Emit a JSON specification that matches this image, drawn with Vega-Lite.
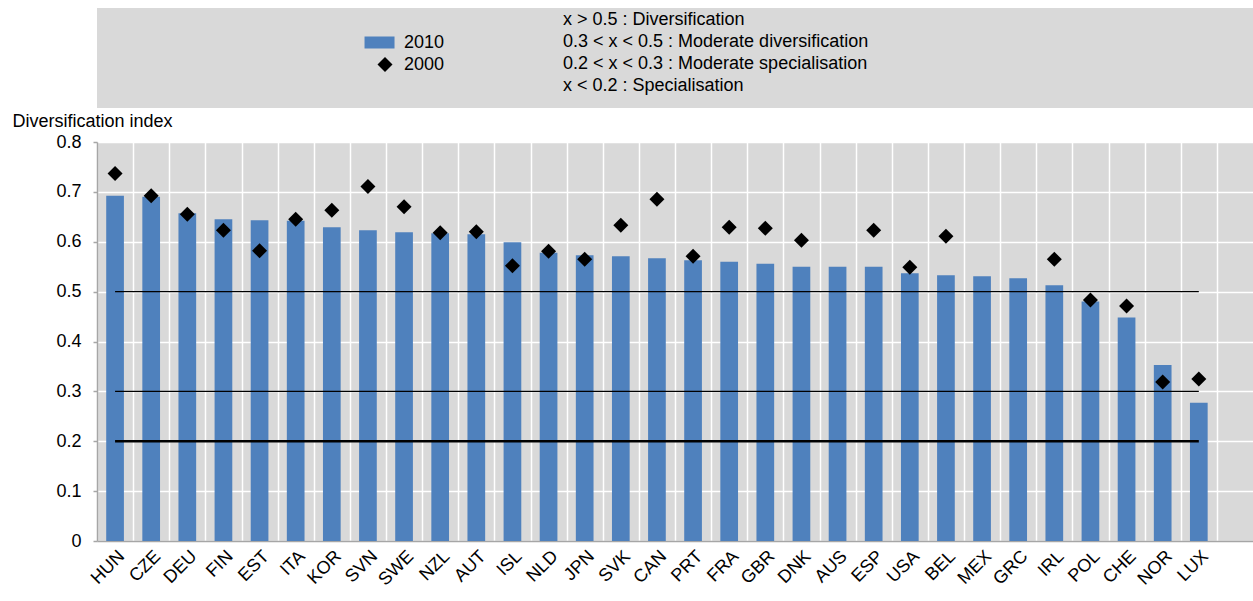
{
  "$schema": "https://vega.github.io/schema/vega-lite/v6.json",
  "autosize": {"type": "pad"},
  "padding": {"left": 12, "top": 8, "right": 0, "bottom": 0},
  "background": "#ffffff",
  "bounds": "flush",
  "spacing": 34,
  "config": {
    "font": "Liberation Sans",
    "view": {"stroke": null}
  },
  "datasets": {
    "index": [
      {"country": "HUN", "series": "2010", "value": 0.692},
      {"country": "CZE", "series": "2010", "value": 0.690},
      {"country": "DEU", "series": "2010", "value": 0.657},
      {"country": "FIN", "series": "2010", "value": 0.645},
      {"country": "EST", "series": "2010", "value": 0.643},
      {"country": "ITA", "series": "2010", "value": 0.642},
      {"country": "KOR", "series": "2010", "value": 0.629},
      {"country": "SVN", "series": "2010", "value": 0.623},
      {"country": "SWE", "series": "2010", "value": 0.619},
      {"country": "NZL", "series": "2010", "value": 0.617},
      {"country": "AUT", "series": "2010", "value": 0.615},
      {"country": "ISL", "series": "2010", "value": 0.599},
      {"country": "NLD", "series": "2010", "value": 0.578},
      {"country": "JPN", "series": "2010", "value": 0.573},
      {"country": "SVK", "series": "2010", "value": 0.571},
      {"country": "CAN", "series": "2010", "value": 0.567},
      {"country": "PRT", "series": "2010", "value": 0.563},
      {"country": "FRA", "series": "2010", "value": 0.560},
      {"country": "GBR", "series": "2010", "value": 0.556},
      {"country": "DNK", "series": "2010", "value": 0.550},
      {"country": "AUS", "series": "2010", "value": 0.550},
      {"country": "ESP", "series": "2010", "value": 0.550},
      {"country": "USA", "series": "2010", "value": 0.537},
      {"country": "BEL", "series": "2010", "value": 0.533},
      {"country": "MEX", "series": "2010", "value": 0.531},
      {"country": "GRC", "series": "2010", "value": 0.527},
      {"country": "IRL", "series": "2010", "value": 0.513},
      {"country": "POL", "series": "2010", "value": 0.480},
      {"country": "CHE", "series": "2010", "value": 0.448},
      {"country": "NOR", "series": "2010", "value": 0.353},
      {"country": "LUX", "series": "2010", "value": 0.277},
      {"country": "HUN", "series": "2000", "value": 0.737},
      {"country": "CZE", "series": "2000", "value": 0.692},
      {"country": "DEU", "series": "2000", "value": 0.655},
      {"country": "FIN", "series": "2000", "value": 0.623},
      {"country": "EST", "series": "2000", "value": 0.582},
      {"country": "ITA", "series": "2000", "value": 0.645},
      {"country": "KOR", "series": "2000", "value": 0.663},
      {"country": "SVN", "series": "2000", "value": 0.711},
      {"country": "SWE", "series": "2000", "value": 0.670},
      {"country": "NZL", "series": "2000", "value": 0.618},
      {"country": "AUT", "series": "2000", "value": 0.620},
      {"country": "ISL", "series": "2000", "value": 0.552},
      {"country": "NLD", "series": "2000", "value": 0.581},
      {"country": "JPN", "series": "2000", "value": 0.565},
      {"country": "SVK", "series": "2000", "value": 0.633},
      {"country": "CAN", "series": "2000", "value": 0.685},
      {"country": "PRT", "series": "2000", "value": 0.571},
      {"country": "FRA", "series": "2000", "value": 0.629},
      {"country": "GBR", "series": "2000", "value": 0.627},
      {"country": "DNK", "series": "2000", "value": 0.603},
      {"country": "ESP", "series": "2000", "value": 0.623},
      {"country": "USA", "series": "2000", "value": 0.549},
      {"country": "BEL", "series": "2000", "value": 0.611},
      {"country": "IRL", "series": "2000", "value": 0.565},
      {"country": "POL", "series": "2000", "value": 0.483},
      {"country": "CHE", "series": "2000", "value": 0.471},
      {"country": "NOR", "series": "2000", "value": 0.319},
      {"country": "LUX", "series": "2000", "value": 0.325}
    ],
    "thresholds": [
      {"threshold": 0.5},
      {"threshold": 0.3},
      {"threshold": 0.2}
    ],
    "classes": [
      {"order": 1, "desc": "x > 0.5 : Diversification"},
      {"order": 2, "desc": "0.3 < x < 0.5 : Moderate diversification"},
      {"order": 3, "desc": "0.2 < x < 0.3 : Moderate specialisation"},
      {"order": 4, "desc": "x < 0.2 : Specialisation"}
    ]
  },
  "vconcat": [
    {
      "width": 1156,
      "height": 100,
      "view": {"fill": "#d9d9d9", "stroke": null},
      "data": {"values": [{}]},
      "mark": {"type": "text", "text": ""},
      "encoding": {}
    },
    {
      "width": 1156,
      "height": 399,
      "view": {"fill": "#d9d9d9", "stroke": null},
      "encoding": {
        "x": {
          "field": "country",
          "type": "nominal",
          "sort": null,
          "scale": {"paddingInner": 0, "paddingOuter": 0},
          "axis": {
            "title": null,
            "labelAngle": -45,
            "labelFontSize": 18,
            "labelColor": "#000000",
            "labelPadding": 6,
            "ticks": false,
            "tickBand": "extent",
            "grid": true,
            "gridColor": "#ffffff",
            "gridWidth": 1.5,
            "domainColor": "#a6a6a6",
            "domainWidth": 1.5
          }
        }
      },
      "layer": [
        {
          "data": {"name": "index"},
          "transform": [{"filter": "datum.series == '2010'"}],
          "mark": {"type": "bar", "width": {"band": 0.49}},
          "encoding": {
            "y": {
              "field": "value",
              "type": "quantitative",
              "scale": {"domain": [0, 0.8], "nice": false},
              "axis": {
                "values": [0, 0.1, 0.2, 0.3, 0.4, 0.5, 0.6, 0.7, 0.8],
                "format": "~g",
                "title": "Diversification index",
                "titleAngle": 0,
                "titleAlign": "left",
                "titleBaseline": "middle",
                "titleX": -85,
                "titleY": -21,
                "titleFontSize": 18,
                "titleFontWeight": "normal",
                "titleColor": "#000000",
                "labelFontSize": 18,
                "labelColor": "#000000",
                "labelPadding": 12,
                "tickSize": 4,
                "tickColor": "#a6a6a6",
                "tickWidth": 1.5,
                "domainColor": "#a6a6a6",
                "domainWidth": 1.5,
                "grid": true,
                "gridColor": "#ffffff",
                "gridWidth": 1.5
              }
            },
            "color": {
              "field": "series",
              "type": "nominal",
              "scale": {"domain": ["2010", "2000"], "range": ["#4f81bd", "#000000"]},
              "legend": {
                "orient": "none",
                "legendX": 279,
                "legendY": 25.5,
                "title": null,
                "padding": 0,
                "symbolSize": 225,
                "symbolStrokeWidth": 0,
                "labelFontSize": 18,
                "labelColor": "#000000",
                "labelOffset": 10,
                "rowPadding": 4
              }
            }
          }
        },
        {
          "data": {"name": "thresholds"},
          "transform": [{"filter": "datum.threshold != 0.2"}],
          "mark": {"type": "rule", "color": "#000000", "strokeWidth": 1.3},
          "encoding": {
            "x": {"datum": "HUN", "type": "nominal"},
            "x2": {"datum": "LUX"},
            "y": {"field": "threshold", "type": "quantitative"}
          }
        },
        {
          "data": {"name": "thresholds"},
          "transform": [{"filter": "datum.threshold == 0.2"}],
          "mark": {"type": "rule", "color": "#000000", "strokeWidth": 2.3},
          "encoding": {
            "x": {"datum": "HUN", "type": "nominal"},
            "x2": {"datum": "LUX"},
            "y": {"field": "threshold", "type": "quantitative"}
          }
        },
        {
          "data": {"name": "index"},
          "transform": [{"filter": "datum.series == '2000'"}],
          "mark": {"type": "point", "filled": true, "size": 225, "opacity": 1, "strokeWidth": 0},
          "encoding": {
            "y": {"field": "value", "type": "quantitative"},
            "color": {"field": "series", "type": "nominal"},
            "shape": {
              "field": "series",
              "type": "nominal",
              "scale": {"domain": ["2010", "2000"], "range": ["M-2.73,-0.8H1.27V0.8H-2.73Z", "diamond"]},
              "legend": {
                "orient": "none",
                "legendX": 279,
                "legendY": 25.5,
                "title": null,
                "padding": 0,
                "symbolSize": 225,
                "symbolStrokeWidth": 0,
                "labelFontSize": 18,
                "labelColor": "#000000",
                "labelOffset": 10,
                "rowPadding": 4
              }
            }
          }
        },
        {
          "data": {"name": "classes"},
          "mark": {"type": "point", "opacity": 0},
          "encoding": {
            "strokeDash": {
              "field": "desc",
              "type": "nominal",
              "sort": {"field": "order"},
              "legend": {
                "orient": "none",
                "legendX": 448,
                "legendY": 3,
                "title": null,
                "padding": 0,
                "symbolSize": 0,
                "symbolOpacity": 0,
                "symbolStrokeWidth": 0,
                "labelOffset": 0,
                "labelFontSize": 18,
                "labelColor": "#000000",
                "labelLimit": 700,
                "rowPadding": 4
              }
            }
          }
        }
      ]
    }
  ]
}
